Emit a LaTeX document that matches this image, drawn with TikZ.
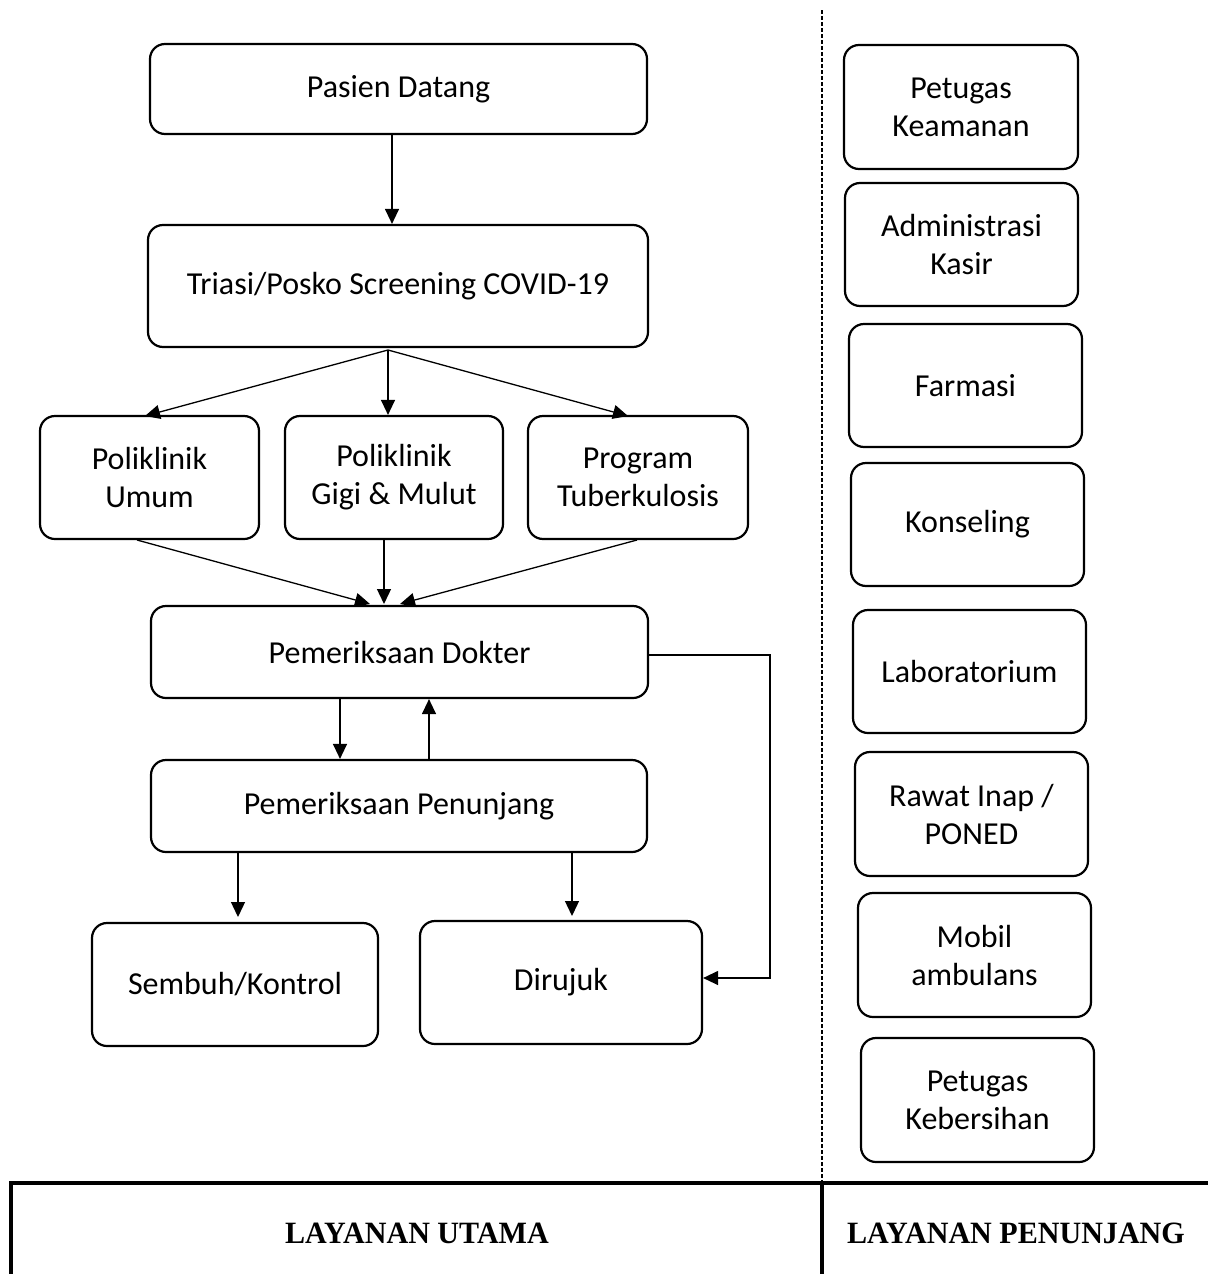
\documentclass[tikz,border=0pt]{standalone}
\usepackage{fontspec}
\setmainfont{Carlito}
\newfontfamily\timesb[FakeStretch=0.97]{Liberation Serif}
\usetikzlibrary{arrows.meta}
\begin{document}
\begin{tikzpicture}[x=1pt,y=-1pt,
  box/.style={draw,line width=2.2pt,rounded corners=15pt,align=center,
    font=\fontsize{32}{38}\selectfont,inner sep=0pt},
  arr/.style={line width=1.3pt,-{Triangle[length=15pt,width=14pt]}},
  lbl/.style={font=\timesb\fontsize{31}{36}\selectfont\bfseries}]
\useasboundingbox (0,0) rectangle (1208,1274);
% left column boxes
\node[box,minimum width=497pt,minimum height=90pt] (pd) at (398.5,89) {Pasien Datang};
\node[box,minimum width=500pt,minimum height=122pt] (tr) at (398,286) {Triasi/Posko Screening COVID-19};
\node[box,minimum width=219pt,minimum height=123pt] (pu) at (149.5,477.5) {Poliklinik\\Umum};
\node[box,minimum width=218pt,minimum height=123pt] (pg) at (394,477.5) {Poliklinik\\Gigi \& Mulut};
\node[box,minimum width=220pt,minimum height=123pt] (pt) at (638,477.5) {Program\\Tuberkulosis};
\node[box,minimum width=497pt,minimum height=92pt] (dk) at (399.5,652) {Pemeriksaan Dokter};
\node[box,minimum width=496pt,minimum height=92pt] (pn) at (399,806) {Pemeriksaan Penunjang};
\node[box,minimum width=286pt,minimum height=123pt] (sk) at (235,984.5) {Sembuh/Kontrol};
\node[box,minimum width=282pt,minimum height=123pt] (dr) at (561,982.5) {Dirujuk};
% right column boxes
\node[box,minimum width=234pt,minimum height=124pt] (r1) at (961,107) {Petugas\\Keamanan};
\node[box,minimum width=233pt,minimum height=123pt] (r2) at (961.5,244.5) {Administrasi\\Kasir};
\node[box,minimum width=233pt,minimum height=123pt] (r3) at (965.5,385.5) {Farmasi};
\node[box,minimum width=233pt,minimum height=123pt] (r4) at (967.5,524.5) {Konseling};
\node[box,minimum width=233pt,minimum height=123pt] (r5) at (969.5,671.5) {Laboratorium};
\node[box,minimum width=233pt,minimum height=124pt] (r6) at (971.5,814) {Rawat Inap /\\PONED};
\node[box,minimum width=233pt,minimum height=124pt] (r7) at (974.5,955) {Mobil\\ambulans};
\node[box,minimum width=233pt,minimum height=124pt] (r8) at (977.5,1100) {Petugas\\Kebersihan};
% connectors
\draw[arr] (pd.south -| 392,0) -- (tr.north -| 392,0);
\coordinate (tb) at (388,350);
\draw[arr] (tb) -- (145,416);
\draw[arr] (tb) -- (pg.north -| 388,0);
\draw[arr] (tb) -- (628,416);
\draw[arr] (137,540) -- (370,604);
\draw[arr] (pg.south -| 384,0) -- (384,604);
\draw[arr] (637,540) -- (400,604);
\draw[arr] (dk.south -| 340,0) -- (pn.north -| 340,0);
\draw[arr] (pn.north -| 429,0) -- (dk.south -| 429,0);
\draw[arr] (dk.east |- 0,655) -- (770,655) -- (770,978) -- (dr.east |- 0,978);
\draw[arr] (pn.south -| 238,0) -- (238,917);
\draw[arr] (pn.south -| 572,0) -- (572,916);
% separator and bottom table
\coordinate (dtop) at (822,10);
\coordinate (dbot) at (822,1183);
\draw[line width=1.5pt,dash pattern=on 4pt off 2pt] (dtop) -- (dbot);
\draw[line width=4pt] (11,1274) -- (11,1183) -- (1208,1183);
\draw[line width=4pt] (822,1183) -- (822,1274);
\node[lbl] (lu) at (417,1233) {LAYANAN UTAMA};
\node[lbl] (lp) at (1016,1233) {LAYANAN PENUNJANG};
\end{tikzpicture}
\end{document}
